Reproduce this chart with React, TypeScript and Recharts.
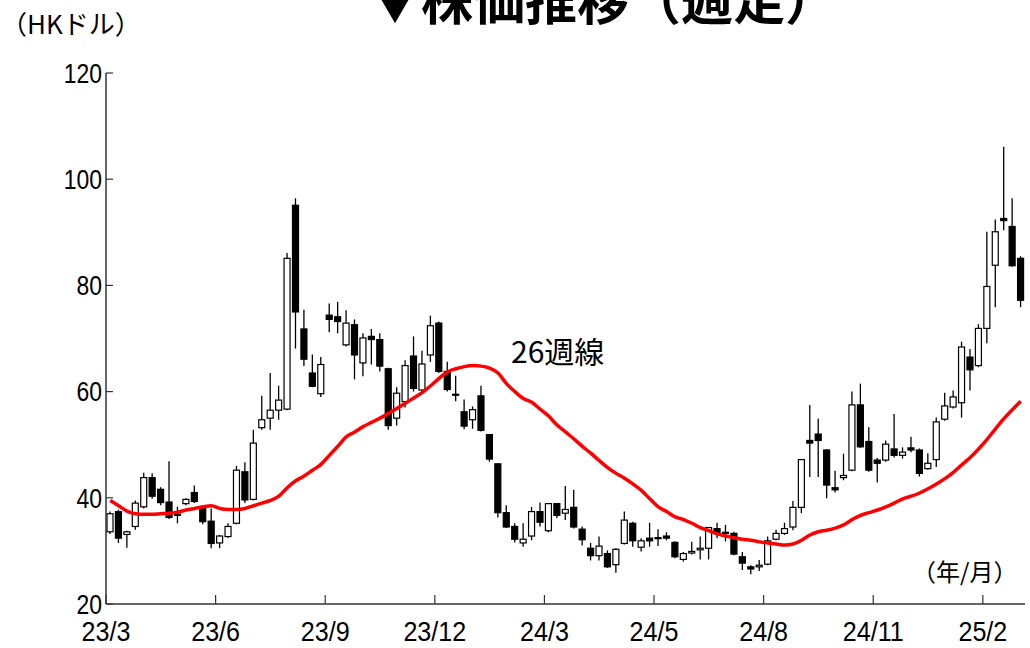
import { ComposedChart, Bar, Line, XAxis, YAxis } from "recharts"

// 週足 OHLC (HKドル)
const opens = [
  33.6, 37.4, 33.1, 34.6, 38.3, 43.8, 41.6, 39.2, 36.7, 38.9, 41.0, 38.0, 35.6, 31.5, 32.7, 35.2, 44.9, 39.7, 53.2, 55.0,
  56.5, 56.7, 95.1, 71.8, 63.5, 59.6, 74.4, 74.1, 68.8, 72.6, 65.4, 70.4, 69.8, 64.3, 55.0, 58.1, 66.7, 60.3, 66.9, 72.9,
  63.8, 59.5, 56.2, 54.7, 59.2, 51.9, 46.4, 37.2, 34.6, 31.5, 32.8, 37.4, 33.8, 38.9, 37.1, 38.2, 34.1, 30.5, 29.1, 29.5,
  27.4, 31.4, 35.2, 30.7, 32.4, 32.3, 32.8, 31.6, 28.4, 29.6, 30.2, 30.5, 34.2, 33.5, 33.3, 28.9, 27.0, 27.0, 27.5, 32.2,
  33.3, 34.5, 38.2, 50.8, 52.0, 49.0, 41.9, 43.8, 45.2, 57.5, 50.6, 47.1, 47.1, 49.2, 48.0, 49.4, 49.0, 45.5, 47.2, 54.8,
  57.1, 57.9, 66.5, 64.9, 71.9, 83.8, 92.6, 91.1, 85.1,
]
const highs = [
  37.4, 37.8, 33.8, 39.5, 44.7, 44.6, 42.0, 46.9, 38.3, 39.9, 42.3, 38.2, 38.0, 33.0, 35.2, 46.0, 46.7, 52.8, 59.2, 63.5,
  61.1, 86.1, 96.4, 75.4, 67.0, 66.5, 76.6, 76.9, 75.3, 73.6, 71.0, 71.8, 71.0, 64.5, 60.8, 65.9, 70.4, 67.7, 74.3, 73.2,
  65.6, 63.0, 58.5, 57.2, 61.1, 52.0, 46.5, 38.6, 35.2, 35.2, 38.3, 39.1, 38.9, 39.0, 42.2, 41.5, 34.6, 31.5, 32.7, 30.1,
  30.5, 37.4, 35.5, 32.4, 35.3, 34.1, 33.5, 31.8, 29.8, 31.7, 32.7, 34.4, 35.3, 34.9, 33.6, 29.8, 27.3, 28.3, 32.7, 34.0,
  35.3, 39.4, 47.2, 57.5, 54.9, 49.2, 45.1, 48.3, 60.0, 61.5, 53.3, 47.5, 50.8, 55.8, 49.5, 51.5, 49.3, 48.4, 55.1, 59.8,
  60.2, 69.4, 68.0, 72.7, 90.1, 92.4, 106.1, 96.4, 85.5,
]
const lows = [
  33.2, 31.5, 30.6, 34.0, 38.0, 39.8, 38.6, 36.0, 35.2, 38.6, 39.0, 35.0, 30.5, 30.5, 32.5, 35.0, 39.0, 39.5, 52.8, 52.8,
  54.7, 56.5, 68.1, 64.8, 60.8, 59.0, 71.2, 71.0, 68.5, 62.3, 62.9, 65.1, 63.8, 52.8, 53.6, 57.0, 60.0, 59.8, 65.6, 63.5,
  60.0, 58.2, 52.9, 53.0, 52.5, 46.8, 36.3, 34.3, 31.6, 30.8, 32.0, 34.6, 33.5, 36.2, 35.8, 34.2, 31.0, 28.2, 28.2, 26.8,
  25.9, 31.2, 30.8, 29.9, 30.8, 30.9, 32.0, 28.6, 28.0, 29.3, 28.4, 28.4, 32.4, 31.8, 29.2, 26.4, 25.6, 26.2, 27.3, 32.0,
  33.0, 33.9, 37.1, 43.9, 43.9, 39.9, 41.0, 43.3, 45.0, 49.4, 44.9, 42.9, 46.8, 47.6, 47.4, 48.6, 44.0, 45.3, 45.8, 54.5,
  56.8, 55.1, 60.2, 64.6, 69.1, 75.9, 90.4, 83.5, 75.9,
]
const closes = [
  37.0, 32.4, 33.6, 39.0, 43.8, 40.3, 39.1, 36.3, 36.9, 39.7, 39.3, 35.5, 31.4, 32.8, 34.6, 45.2, 39.6, 50.3, 54.7, 56.5,
  58.4, 85.1, 75.0, 66.1, 61.0, 65.1, 73.6, 73.2, 72.9, 66.9, 70.1, 69.8, 64.8, 53.6, 59.7, 64.9, 60.6, 65.2, 72.4, 63.8,
  60.4, 59.4, 53.5, 56.6, 52.7, 47.3, 37.2, 34.5, 32.2, 32.2, 37.4, 35.4, 38.9, 36.7, 37.8, 34.5, 32.1, 29.1, 30.9, 27.0,
  30.3, 35.8, 31.9, 31.9, 31.9, 32.5, 32.4, 28.9, 29.5, 29.9, 30.5, 34.4, 33.3, 33.3, 29.4, 27.7, 26.6, 27.3, 31.9, 33.3,
  34.2, 38.2, 47.2, 50.3, 50.8, 42.4, 41.5, 44.2, 57.5, 49.6, 45.2, 46.5, 50.1, 48.0, 48.6, 49.0, 44.6, 46.5, 54.3, 57.3,
  59.0, 68.4, 64.1, 71.9, 79.8, 90.1, 92.2, 83.7, 77.2,
]
// 26週移動平均
const ma26 = [
  39.5, 38.5, 37.5, 37.0, 36.9, 36.9, 37.0, 37.1, 37.3, 37.7, 38.0, 38.3, 38.5, 38.0, 37.8, 37.8, 38.0, 38.5, 39.0, 39.5,
  40.3, 41.9, 43.2, 44.1, 45.2, 46.3, 48.0, 49.7, 51.5, 52.4, 53.4, 54.2, 55.0, 55.9, 56.8, 57.8, 58.8, 59.8, 61.1, 62.5,
  63.7, 64.3, 64.7, 64.9, 64.8, 64.4, 63.5, 61.5, 60.0, 58.7, 58.0, 56.7, 55.4, 53.7, 52.4, 51.1, 49.7, 48.4, 47.0, 45.7,
  44.6, 43.7, 42.6, 41.4, 39.8, 38.3, 37.4, 36.4, 35.9, 35.2, 34.4, 33.8, 33.2, 32.8, 32.5, 32.2, 32.0, 31.7, 31.5, 31.3,
  31.1, 31.3, 32.0, 33.0, 33.6, 33.9, 34.3, 34.9, 35.9, 36.7, 37.2, 37.7, 38.3, 39.0, 39.8, 40.3, 40.9, 41.7, 42.6, 43.6,
  44.8, 46.2, 47.6, 49.2, 51.0, 53.0, 54.9, 56.6, 58.2,
]
const tickLabels = ["23/3", "23/6", "23/9", "23/12", "24/3", "24/5", "24/8", "24/11", "25/2"]
const yTicks = [20, 40, 60, 80, 100, 120]

const data = opens.map((o, i) => ({ i, o, h: highs[i], l: lows[i], c: closes[i], ma: ma26[i] }))
const xTicks = tickLabels.map((_, k) => k * 13 - 0.5)

const FONT = "'Liberation Sans', Arial, sans-serif"
const JP = "'Noto Sans CJK JP', 'Noto Sans', sans-serif"

const Candle = (props: any) => {
  const { x, y, width, height, payload } = props
  if (x == null || y == null) return null
  const { o, h, l, c } = payload
  const cx = x + width / 2
  const k = h - l > 0 ? height / (h - l) : 0
  const py = (v: number) => y + (h - v) * k
  const up = c >= o
  const top = py(Math.max(o, c))
  const bot = py(Math.min(o, c))
  return (
    <g>
      <line x1={cx} x2={cx} y1={y} y2={y + height} stroke="#000" strokeWidth={1.3} />
      <rect
        x={x}
        y={top}
        width={width}
        height={Math.max(bot - top, 1)}
        fill={up ? "#fff" : "#000"}
        stroke="#000"
        strokeWidth={1.2}
      />
    </g>
  )
}

const XTick = ({ x, y, payload }: any) => {
  const k = Math.round((payload.value + 0.5) / 13)
  return (
    <g transform={`translate(${x},${y})`}>
      <text transform="scale(0.93,1)" textAnchor="middle" y={37} fontSize={27} fontFamily={FONT} fill="#000">
        {tickLabels[k]}
      </text>
    </g>
  )
}

const YTick = ({ x, y, payload }: any) => (
  <g transform={`translate(${x},${y})`}>
    <text transform="scale(0.85,1)" textAnchor="end" dy="0.36em" fontSize={27} fontFamily={FONT} fill="#000">
      {payload.value}
    </text>
  </g>
)

export default function App() {
  return (
    <div style={{ position: "absolute", left: 0, top: 0, width: 1030, height: 648, overflow: "hidden", background: "#fff" }}>
      <ComposedChart width={1030} height={648} data={data} margin={{ top: 73, right: 5, left: 0, bottom: 0 }}>
        <XAxis
          type="number"
          dataKey="i"
          domain={[-0.5, 108.5]}
          ticks={xTicks}
          interval={0}
          allowDataOverflow
          tickSize={-9}
          tickMargin={9}
          tick={<XTick />}
          axisLine={{ stroke: "#333", strokeWidth: 1.5 }}
          tickLine={{ stroke: "#333", strokeWidth: 1.2 }}
          height={44}
        />
        <YAxis
          type="number"
          domain={[20, 120]}
          ticks={yTicks}
          interval={0}
          width={106}
          tickSize={-7}
          tickMargin={11}
          tick={<YTick />}
          axisLine={{ stroke: "#333", strokeWidth: 1.5 }}
          tickLine={{ stroke: "#333", strokeWidth: 1.2 }}
        />
        <Bar
          dataKey={(d: any) => [d.l, d.h]}
          barSize={6}
          shape={<Candle />}
          isAnimationActive={false}
        />
        <Line
          type="monotone"
          dataKey="ma"
          stroke="#ff0000"
          strokeWidth={3.5}
          dot={false}
          activeDot={false}
          isAnimationActive={false}
        />
      </ComposedChart>
      <svg width={1030} height={648} style={{ position: "absolute", left: 0, top: 0, pointerEvents: "none" }}>
        <text x={603} y={20} textAnchor="middle" fontSize={52} fontWeight="bold" fontFamily={JP} fill="#000">
          ▼株価推移（週足）
        </text>
        <text x={1} y={34} fontSize={26} fontFamily={JP} fill="#000">
          （HKドル）
        </text>
        <text x={511} y={363} fontSize={30} fontFamily={JP} fill="#000">
          26週線
        </text>
        <text x={912} y={581} fontSize={24} fontFamily={JP} fill="#000">
          （年/月）
        </text>
      </svg>
    </div>
  )
}
